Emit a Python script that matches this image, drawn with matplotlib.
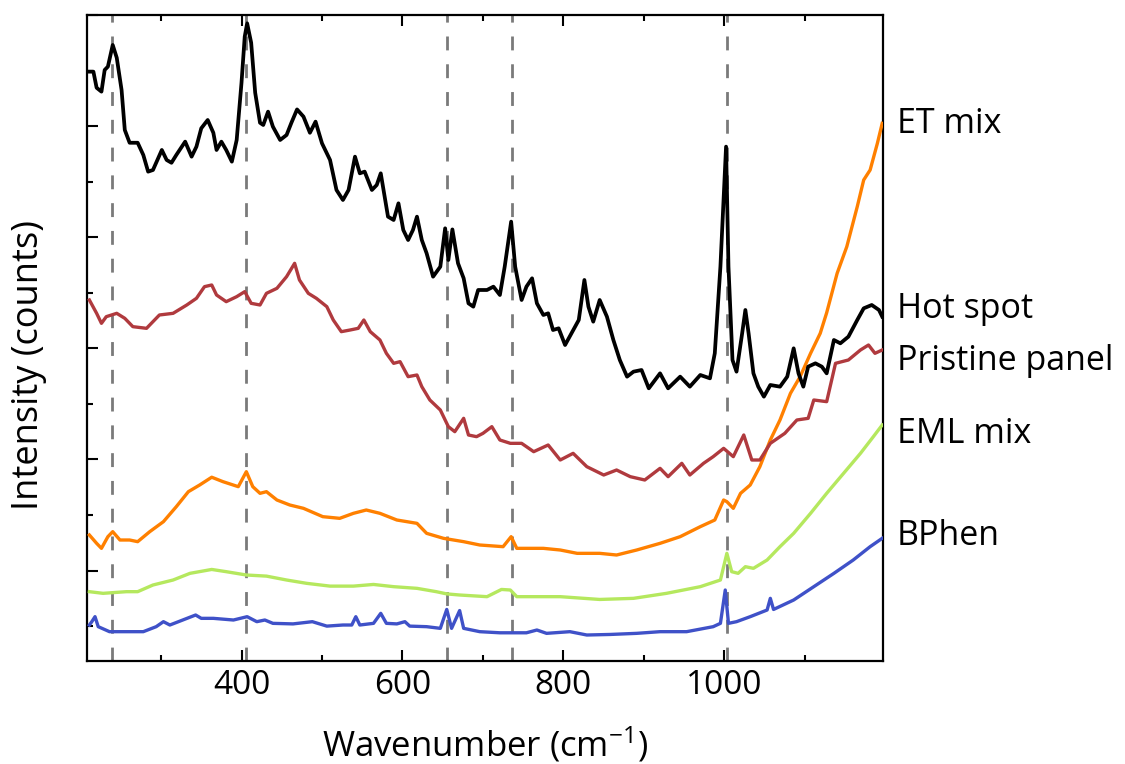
import matplotlib
matplotlib.use("Agg")
import matplotlib.pyplot as plt
from matplotlib.ticker import MultipleLocator, NullFormatter

plt.rcParams.update({
    "font.family": ["Open Sans", "DejaVu Sans"],
    "mathtext.default": "regular",
    "font.size": 22,
    "axes.linewidth": 1.6,
})

# Raman spectra (wavenumber in cm^-1, intensity in counts)
hot_wn = [211, 216, 220, 226, 230, 234, 240, 245, 251, 255, 261, 271, 278, 284, 290,
          301, 307, 313, 319, 330, 338, 344, 350, 358, 365, 369, 375, 381, 388, 394,
          400, 404, 407, 412, 417, 423, 427, 433, 439, 448, 456, 462, 469, 477, 485,
          492, 500, 510, 518, 526, 533, 541, 547, 553, 562, 568, 573, 582, 589, 595,
          601, 607, 613, 618, 624, 630, 638, 647, 653, 657, 662, 669, 676, 682, 688,
          694, 705, 713, 721, 727, 735, 740, 748, 754, 761, 767, 775, 781, 787, 794,
          802, 810, 819, 826, 831, 837, 845, 854, 862, 870, 879, 887, 897, 906, 920,
          930, 945, 957, 970, 982, 988, 995, 1002, 1005, 1010, 1015, 1022, 1026, 1030, 1036,
          1042, 1049, 1057, 1069, 1078, 1086, 1092, 1098, 1104, 1113, 1121, 1127, 1136, 1144, 1154,
          1165, 1173, 1183, 1192, 1196]
hot_int = [10980, 10980, 10690, 10620, 11010, 11070, 11460, 11230, 10650, 9930, 9700, 9700, 9480, 9180, 9210,
           9570, 9390, 9340, 9480, 9720, 9450, 9630, 9960, 10110, 9880, 9570, 9720, 9570, 9360, 9750,
           10780, 11610, 11850, 11500, 10600, 10060, 10020, 10260, 9990, 9750, 9840, 10060, 10300, 10170, 9880,
           10080, 9690, 9390, 8850, 8670, 8850, 9450, 9150, 9180, 8850, 8940, 9150, 8370, 8310, 8610,
           8130, 7950, 8130, 8370, 7950, 7710, 7290, 7470, 8160, 7590, 8140, 7530, 7260, 6810, 6750,
           7050, 7050, 7110, 6960, 7470, 8280, 7470, 6870, 7110, 7260, 6810, 6600, 6630, 6330, 6360,
           6060, 6270, 6510, 7230, 6750, 6480, 6870, 6570, 6150, 5790, 5490, 5580, 5610, 5280, 5550,
           5280, 5490, 5310, 5520, 5460, 5910, 7470, 9630, 7470, 5790, 5580, 6270, 6690, 6270, 5550,
           5310, 5130, 5340, 5310, 5490, 6000, 5550, 5310, 5670, 5730, 5670, 5550, 6150, 6090, 6210,
           6510, 6720, 6780, 6690, 6570]

pristine_wn = [211, 220, 226, 232, 245, 255, 265, 282, 298, 315, 332, 344, 354, 363, 369,
               381, 394, 404, 412, 423, 431, 444, 456, 466, 472, 483, 493, 506, 514, 524,
               535, 545, 552, 560, 572, 580, 589, 597, 607, 618, 624, 634, 647, 657, 665,
               676, 682, 692, 700, 711, 721, 734, 748, 763, 781, 796, 812, 829, 850, 866,
               883, 901, 920, 930, 947, 957, 974, 986, 999, 1011, 1024, 1034, 1044, 1057, 1075,
               1090, 1104, 1111, 1127, 1138, 1154, 1169, 1179, 1187, 1196]
pristine_int = [6870, 6630, 6450, 6570, 6630, 6540, 6390, 6360, 6600, 6630, 6780, 6900, 7110, 7140, 6960,
                6840, 6930, 7020, 6810, 6780, 6990, 7080, 7290, 7530, 7230, 6990, 6900, 6750, 6510, 6300,
                6330, 6360, 6510, 6300, 6150, 5910, 5730, 5760, 5490, 5520, 5310, 5070, 4890, 4590, 4500,
                4740, 4440, 4410, 4470, 4590, 4350, 4290, 4290, 4140, 4260, 3990, 4110, 3870, 3720, 3810,
                3690, 3630, 3840, 3690, 3930, 3720, 3930, 4050, 4200, 4050, 4440, 3990, 3990, 4290, 4470,
                4710, 4740, 5070, 5040, 5730, 5790, 5970, 6060, 5910, 5970]

et_wn = [211, 220, 226, 234, 240, 249, 261, 271, 286, 303, 319, 334, 348, 363, 377,
         396, 406, 414, 423, 431, 444, 460, 477, 501, 522, 539, 555, 572, 593, 618,
         630, 651, 676, 696, 725, 735, 742, 775, 796, 817, 845, 866, 891, 920, 945,
         970, 988, 999, 1003, 1011, 1020, 1032, 1044, 1057, 1069, 1082, 1094, 1107, 1119, 1127,
         1140, 1152, 1165, 1173, 1181, 1190, 1196]
et_int = [2640, 2490, 2400, 2610, 2700, 2550, 2550, 2520, 2700, 2880, 3150, 3420, 3540, 3680, 3600,
          3510, 3780, 3510, 3390, 3420, 3270, 3180, 3120, 2970, 2940, 3030, 3090, 3030, 2910, 2850,
          2670, 2580, 2520, 2460, 2430, 2610, 2400, 2400, 2370, 2310, 2310, 2280, 2370, 2490, 2610,
          2790, 2910, 3270, 3240, 3120, 3390, 3540, 3870, 4350, 4710, 5190, 5490, 5910, 6270, 6640,
          7350, 7830, 8550, 9030, 9210, 9690, 10050]

eml_wn = [211, 228, 257, 271, 290, 315, 336, 363, 381, 406, 431, 456, 481, 510, 539,
          564, 589, 618, 642, 655, 671, 705, 723, 734, 742, 796, 845, 887, 928, 970,
          995, 1003, 1009, 1017, 1026, 1036, 1053, 1069, 1086, 1107, 1127, 1148, 1169, 1185, 1196]
eml_int = [1620, 1590, 1620, 1620, 1740, 1830, 1950, 2020, 1980, 1920, 1900, 1830, 1770, 1720, 1720,
           1750, 1710, 1680, 1620, 1580, 1560, 1530, 1660, 1650, 1530, 1530, 1480, 1500, 1590, 1710,
           1830, 2310, 1980, 1950, 2070, 2040, 2190, 2430, 2670, 3030, 3390, 3750, 4110, 4410, 4620]

bphen_wn = [211, 214, 218, 222, 236, 257, 278, 294, 303, 311, 327, 343, 350, 365, 390,
            407, 419, 429, 439, 464, 488, 506, 526, 537, 542, 547, 564, 573, 580, 593,
            603, 609, 630, 647, 655, 661, 671, 676, 696, 721, 754, 767, 779, 808, 829,
            858, 891, 920, 953, 986, 995, 1001, 1005, 1015, 1032, 1053, 1057, 1061, 1086, 1111,
            1136, 1160, 1181, 1196]
bphen_int = [1020, 1080, 1170, 990, 900, 900, 900, 990, 1080, 1020, 1110, 1200, 1140, 1140, 1110,
             1170, 1080, 1110, 1050, 1040, 1080, 1000, 1020, 1020, 1170, 1020, 1050, 1230, 1050, 1040,
             1080, 1000, 990, 960, 1300, 960, 1280, 960, 900, 880, 880, 930, 870, 900, 840,
             850, 870, 900, 900, 990, 1050, 1650, 1050, 1080, 1170, 1290, 1500, 1300, 1470, 1710,
             1950, 2190, 2430, 2580]

marker_lines = [239, 406, 655, 736, 1003]

fig = plt.figure(figsize=(11.25, 7.64), dpi=100)
ax = fig.add_axes([0.0773, 0.1348, 0.7076, 0.8456])

for xv in marker_lines:
    ax.axvline(xv, color="#7a7a7a", lw=2, dashes=(5, 5), zorder=1)

ax.plot(bphen_wn, bphen_int, color="#3f51c8", lw=2.4, zorder=3)
ax.plot(eml_wn, eml_int, color="#b5e85e", lw=2.4, zorder=3)
ax.plot(et_wn, et_int, color="#ff8000", lw=2.4, zorder=3)
ax.plot(pristine_wn, pristine_int, color="#b03a3e", lw=2.4, zorder=4)
ax.plot(hot_wn, hot_int, color="black", lw=2.7, zorder=5)

ax.set_xlim(208, 1197)
ax.set_ylim(372, 12000)
ax.xaxis.set_major_locator(MultipleLocator(200))
ax.xaxis.set_minor_locator(MultipleLocator(100))
ax.yaxis.set_major_locator(MultipleLocator(2000))
ax.yaxis.set_minor_locator(MultipleLocator(1000))
ax.yaxis.set_major_formatter(NullFormatter())
ax.tick_params(which="both", direction="in", top=True, right=False, width=1.5)
ax.tick_params(which="major", length=8, pad=6, labelsize=24)
ax.tick_params(which="minor", length=4)

ax.set_xlabel("Wavenumber (cm$^{-1}$)", fontsize=25, labelpad=16)
ax.set_ylabel("Intensity (counts)", fontsize=26)
ax.yaxis.set_label_coords(-0.05, 0.458)

labels = [("ET mix", 9870), ("Hot spot", 6540), ("Pristine panel", 5610),
          ("EML mix", 4290), ("BPhen", 2460)]
for name, yv in labels:
    ax.text(1.0176, yv, name, transform=ax.get_yaxis_transform(), ha="left",
            va="baseline", fontsize=24.5, clip_on=False)

fig.savefig("out.png", dpi=100)
